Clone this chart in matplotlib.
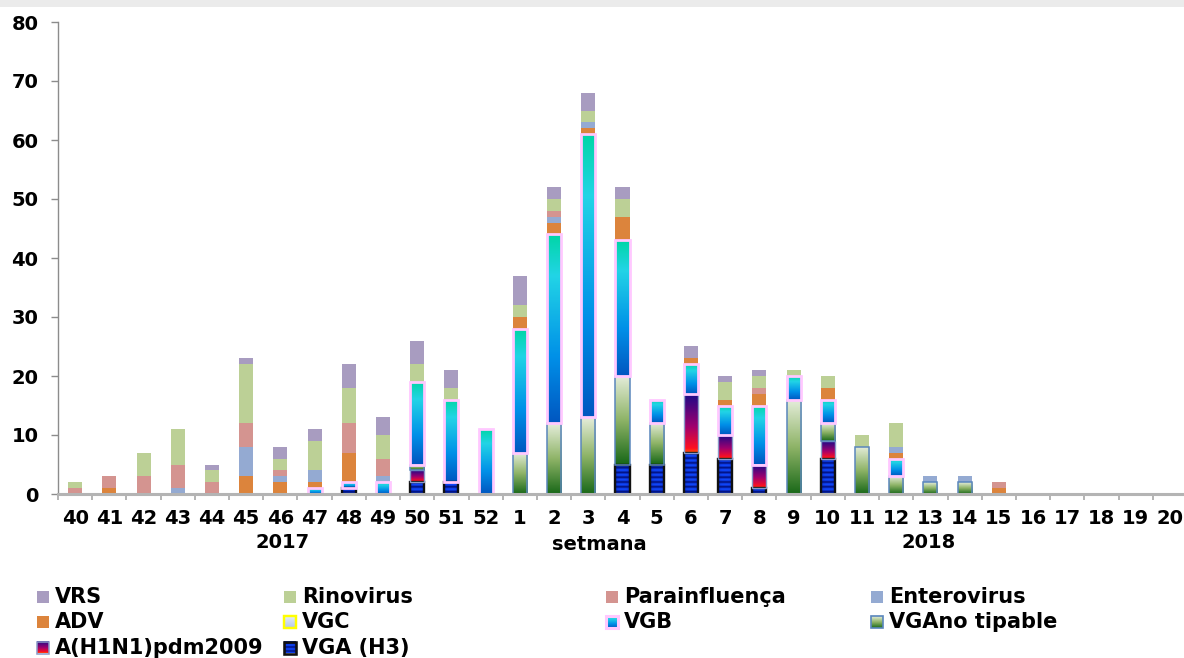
import numpy as np
import matplotlib
matplotlib.use("Agg")
import matplotlib.pyplot as plt
from matplotlib.colors import LinearSegmentedColormap, to_rgb
from matplotlib.patches import Rectangle

# Epidemiological weeks 40/2017 .. 20/2018
weeks = [str(w) for w in range(40, 53)] + [str(w) for w in range(1, 21)]

# Positive detections per week, one list per virus (bottom-to-top stack order)
vga_h3 = [0, 0, 0, 0, 0, 0, 0, 0, 1, 0, 2, 2, 0,
          0, 0, 0, 5, 5, 7, 6, 1, 0, 6, 0, 0, 0, 0, 0, 0, 0, 0, 0, 0]
h1n1 = [0, 0, 0, 0, 0, 0, 0, 0, 0, 0, 2, 0, 0,
        0, 0, 0, 0, 0, 10, 4, 4, 0, 3, 0, 0, 0, 0, 0, 0, 0, 0, 0, 0]
vga_nt = [0, 0, 0, 0, 0, 0, 0, 0, 0, 0, 1, 0, 0,
          7, 12, 13, 15, 7, 0, 0, 0, 16, 3, 8, 3, 2, 2, 0, 0, 0, 0, 0, 0]
vgc = [0] * 33
vgb = [0, 0, 0, 0, 0, 0, 0, 1, 1, 2, 14, 14, 11,
       21, 32, 48, 23, 4, 5, 5, 10, 4, 4, 0, 3, 0, 0, 0, 0, 0, 0, 0, 0]
adv = [0, 1, 0, 0, 0, 3, 2, 1, 5, 0, 0, 0, 0,
       2, 2, 1, 4, 0, 1, 1, 2, 0, 2, 0, 1, 0, 0, 1, 0, 0, 0, 0, 0]
entero = [0, 0, 0, 1, 0, 5, 1, 2, 0, 1, 0, 0, 0,
          0, 1, 1, 0, 0, 0, 0, 0, 0, 0, 0, 1, 1, 1, 0, 0, 0, 0, 0, 0]
parainf = [1, 2, 3, 4, 2, 4, 1, 0, 5, 3, 0, 0, 0,
           0, 1, 0, 0, 0, 0, 0, 1, 0, 0, 0, 0, 0, 0, 1, 0, 0, 0, 0, 0]
rino = [1, 0, 4, 6, 2, 10, 2, 5, 6, 4, 3, 2, 0,
        2, 2, 2, 3, 0, 0, 3, 2, 1, 2, 2, 4, 0, 0, 0, 0, 0, 0, 0, 0]
vrs = [0, 0, 0, 0, 1, 1, 2, 2, 4, 3, 4, 3, 0,
       5, 2, 3, 2, 0, 2, 1, 1, 0, 0, 0, 0, 0, 0, 0, 0, 0, 0, 0, 0]

# Colour maps for the gradient-filled series
cm_vgb = LinearSegmentedColormap.from_list(
    "vgb", [(0, "#0056c0"), (0.35, "#0090e8"), (0.78, "#22d4e6"), (1, "#00d6a6")])
cm_nt = LinearSegmentedColormap.from_list(
    "nt", [(0, "#196818"), (0.5, "#8fb468"), (1, "#e6eedc")])
cm_h1 = LinearSegmentedColormap.from_list(
    "h1", [(0, "#ff5a00"), (0.08, "#ff1020"), (0.45, "#a0006e"), (1, "#1c0a88")])
cm_h3 = LinearSegmentedColormap.from_list("h3", ["#000a6a", "#0030f0", "#1650ff"])
cm_vgc = LinearSegmentedColormap.from_list("vgc", ["#b4c8e8", "#e6eef8"])

series = [
    # label, values, face, cmap, edgecolor, linewidth, striped
    ("VGA (H3)", vga_h3, None, cm_h3, "#111111", 1.7, True),
    ("A(H1N1)pdm2009", h1n1, None, cm_h1, "#8a9ac8", 1.0, False),
    ("VGAno tipable", vga_nt, None, cm_nt, "#5a86bc", 1.1, False),
    ("VGC", vgc, None, cm_vgc, "#ffff00", 1.6, False),
    ("VGB", vgb, None, cm_vgb, "#ffc8ff", 2.0, False),
    ("ADV", adv, "#dc843c", None, None, 0, False),
    ("Enterovirus", entero, "#94aad2", None, None, 0, False),
    ("Parainfluença", parainf, "#d49490", None, None, 0, False),
    ("Rinovirus", rino, "#bcd096", None, None, 0, False),
    ("VRS", vrs, "#a89cc0", None, None, 0, False),
]

W, H = 1184, 658
fig = plt.figure(figsize=(W / 100, H / 100), dpi=100)
fig.patch.set_facecolor("white")

ax_left, ax_right, ax_top, ax_bot = 58, 1187, 22, 494
ax = fig.add_axes([ax_left / W, 1 - ax_bot / H,
                   (ax_right - ax_left) / W, (ax_bot - ax_top) / H])
ax.set_facecolor("none")


def stripe_rgb(height, period, n=240, m=24):
    """Blue horizontal bands, slightly darker towards the left/right edges."""
    yy = np.linspace(0, height, n)
    band = (0.5 + 0.5 * np.cos(2 * np.pi * yy / period)) ** 0.6
    xx = np.linspace(-1, 1, m)
    side = 1.0 - 0.35 * xx ** 4
    dark = np.array(to_rgb("#000a70"))
    bright = np.array(to_rgb("#1048ff"))
    t = band[:, None, None] * side[None, :, None]
    return dark + (bright - dark) * t


def fill_image(target_ax, x0, x1, y0, y1, cmap, striped, clip=None, z=2,
               period=0.8):
    """Paint a vertical gradient (or stripe pattern) into a rectangle."""
    if striped:
        arr = stripe_rgb(abs(y1 - y0), period)
        im = target_ax.imshow(arr, extent=(x0, x1, y0, y1), origin="lower",
                              aspect="auto", interpolation="bilinear",
                              zorder=z)
    else:
        arr = np.linspace(0, 1, 256).reshape(-1, 1)
        im = target_ax.imshow(arr, cmap=cmap, extent=(x0, x1, y0, y1),
                              origin="lower", aspect="auto",
                              interpolation="bilinear", zorder=z)
    if clip is not None:
        im.set_clip_path(clip)
    return im


x = np.arange(len(weeks))
width = 0.41
bottom = np.zeros(len(weeks))
for label, vals, face, cmap, edge, lw, striped in series:
    vals = np.asarray(vals, dtype=float)
    if face is not None:
        ax.bar(x, vals, width, bottom=bottom, color=face, linewidth=0,
               zorder=3)
    else:
        bars = ax.bar(x, vals, width, bottom=bottom, facecolor="none",
                      edgecolor=edge, linewidth=lw, zorder=4)
        for patch, v in zip(bars, vals):
            if v <= 0:
                patch.set_visible(False)
                continue
            px, py = patch.get_x(), patch.get_y()
            fill_image(ax, px, px + patch.get_width(), py,
                       py + patch.get_height(), cmap, striped,
                       clip=patch, z=3.5, period=0.8)
    bottom += vals

ax.set_xlim(-0.5, len(weeks) - 0.5)
ax.set_ylim(0, 80)
ax.set_yticks(np.arange(0, 81, 10))
ax.set_xticks(x)
ax.set_xticklabels(weeks)
ax.set_xticks(np.arange(len(weeks) + 1) - 0.5, minor=True)

for s in ("top", "right"):
    ax.spines[s].set_visible(False)
ax.spines["left"].set_color("#8c8c8c")
ax.spines["left"].set_linewidth(1.0)
ax.spines["bottom"].set_color("#b4b4b4")
ax.spines["bottom"].set_linewidth(2.2)
ax.spines["bottom"].set_zorder(5)

tick_font = dict(family="DejaVu Sans", weight="bold", size=14)
ax.tick_params(axis="y", direction="out", length=5, width=1,
               color="#8c8c8c", pad=9)
ax.tick_params(axis="x", which="major", length=0, pad=10.5)
ax.tick_params(axis="x", which="minor", direction="out", length=4.5,
               width=1.1, color="#a0a0a0")
for lab in ax.get_xticklabels() + ax.get_yticklabels():
    lab.set_fontproperties(tick_font)
    lab.set_color("black")

# Overlay in pixel coordinates for the banner, axis captions and legend
ov = fig.add_axes([0, 0, 1, 1])
ov.set_xlim(0, W)
ov.set_ylim(H, 0)
ov.axis("off")
ov.set_zorder(-1)
ov.add_patch(Rectangle((0, 0), W, 7, facecolor="#ebebeb", edgecolor="none"))

cap_font = dict(family="DejaVu Sans", weight="bold", size=14, color="black")
ov.text(283, 543, "2017", ha="center", va="center", **cap_font)
ov.text(599, 544, "setmana", ha="center", va="center", **cap_font)
ov.text(929, 543, "2018", ha="center", va="center", **cap_font)

leg = fig.add_axes([0, 0, 1, 1])
leg.set_xlim(0, W)
leg.set_ylim(H, 0)
leg.axis("off")

legend_order = ["VRS", "Rinovirus", "Parainfluença", "Enterovirus",
                "ADV", "VGC", "VGB", "VGAno tipable",
                "A(H1N1)pdm2009", "VGA (H3)"]
lookup = {s[0]: s for s in series}
col_x = [37, 284, 606, 871]
row_y = [596.5, 622, 647.5]
msize = 12
for i, name in enumerate(legend_order):
    r, c = divmod(i, 4)
    mx, my = col_x[c], row_y[r]
    _, _, face, cmap, edge, lw, striped = lookup[name]
    x0, x1 = mx, mx + msize
    y_top, y_bot = my - msize / 2, my + msize / 2
    if face is not None:
        leg.add_patch(Rectangle((x0, y_top), msize, msize, facecolor=face,
                                edgecolor="none"))
    else:
        fill_image(leg, x0, x1, y_bot, y_top, cmap, striped, z=2, period=4.0)
        leg.add_patch(Rectangle((x0, y_top), msize, msize, facecolor="none",
                                edgecolor=edge, linewidth=lw * 1.1, zorder=3))
    leg.text(mx + 18, my + 0.5, name, ha="left", va="center",
             family="DejaVu Sans", weight="bold", size=15, color="black")

leg.set_xlim(0, W)
leg.set_ylim(H, 0)

fig.savefig("out.png", dpi=100)
